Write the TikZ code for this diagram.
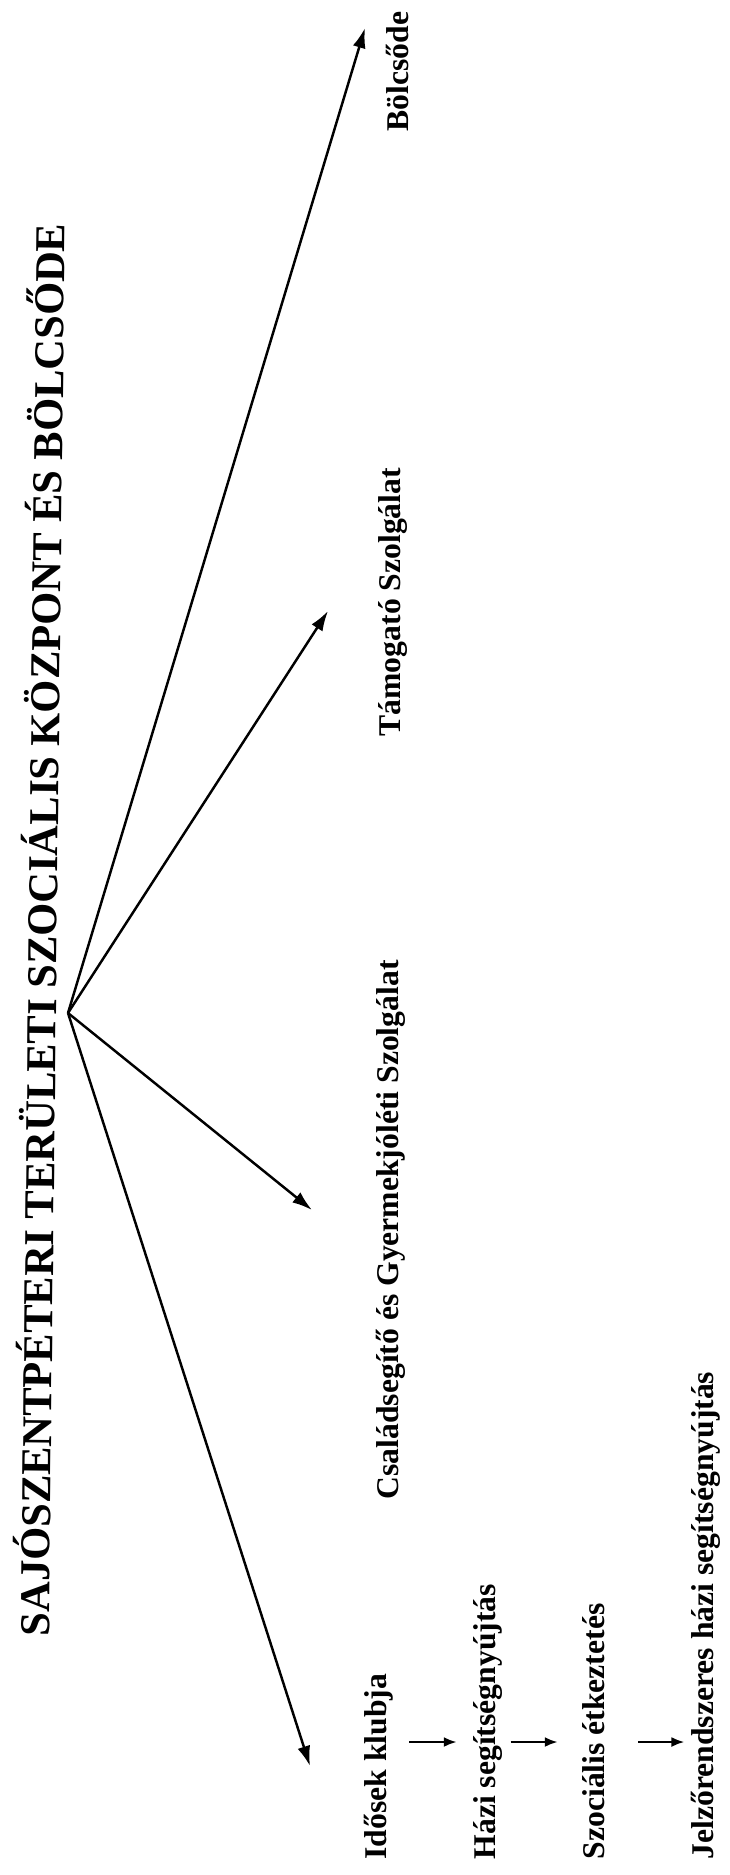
\documentclass[tikz,border=0pt]{standalone}
\usepackage{fontspec}
\setmainfont{Liberation Serif}
\usetikzlibrary{arrows.meta, positioning, calc}

\begin{document}
\begin{tikzpicture}[x=0.01cm, y=-0.01cm,
  title/.style={font=\fontsize{12.1}{14}\selectfont\bfseries, rotate=89.35, anchor=base west, inner sep=0pt},
  svc/.style={font=\fontsize{9}{11}\selectfont\bfseries, rotate=90, anchor=base west, inner sep=0pt},
  branch/.style={-{Latex[length=0.2cm, width=0.13cm]}, line width=0.7pt},
  flow/.style={-{Latex[length=0.13cm, width=0.1cm]}, line width=0.7pt}]
\useasboundingbox (0,0) rectangle (729,1875);
% Title
\node[title] (head) at (49,1637) {SAJÓSZENTPÉTERI TERÜLETI SZOCIÁLIS KÖZPONT ÉS BÖLCSŐDE};
% Units
\node[svc] (bolcsode) at (408,132) {Bölcsőde};
\node[svc] (tamogato) at (400,737) {Támogató Szolgálat};
\node[svc] (csaladseg) at (398,1500) {Családsegítő és Gyermekjóléti Szolgálat};
\node[svc] (idosek) at (386,1860) {Idősek klubja};
\node[svc] (hazi) at (495,1860) {Házi segítségnyújtás};
\node[svc] (szocialis) at (604,1860) {Szociális étkeztetés};
\node[svc] (jelzo) at (713,1860) {Jelzőrendszeres házi segítségnyújtás};
% Branches from the centre
\coordinate (hub) at (68,1013);
\coordinate (tip-bolcsode) at (365,28);
\coordinate (tip-tamogato) at (328,611);
\coordinate (tip-csaladseg) at (312,1210);
\coordinate (tip-idosek) at (310,1766);
\foreach \n in {bolcsode, tamogato, csaladseg, idosek} {
  \draw[branch] (hub) -- (tip-\n);
}
% Chain of services
\coordinate (row) at (0,1742);
\draw[flow, shorten <=0.16cm, shorten >=0.155cm] (idosek.south |- row) -- (hazi.north |- row);
\draw[flow, shorten <=0.08cm, shorten >=0.235cm] (hazi.south |- row) -- (szocialis.north |- row);
\draw[flow, shorten <=0.33cm, shorten >=0.055cm] (szocialis.south |- row) -- (jelzo.north |- row);
\end{tikzpicture}
\end{document}
